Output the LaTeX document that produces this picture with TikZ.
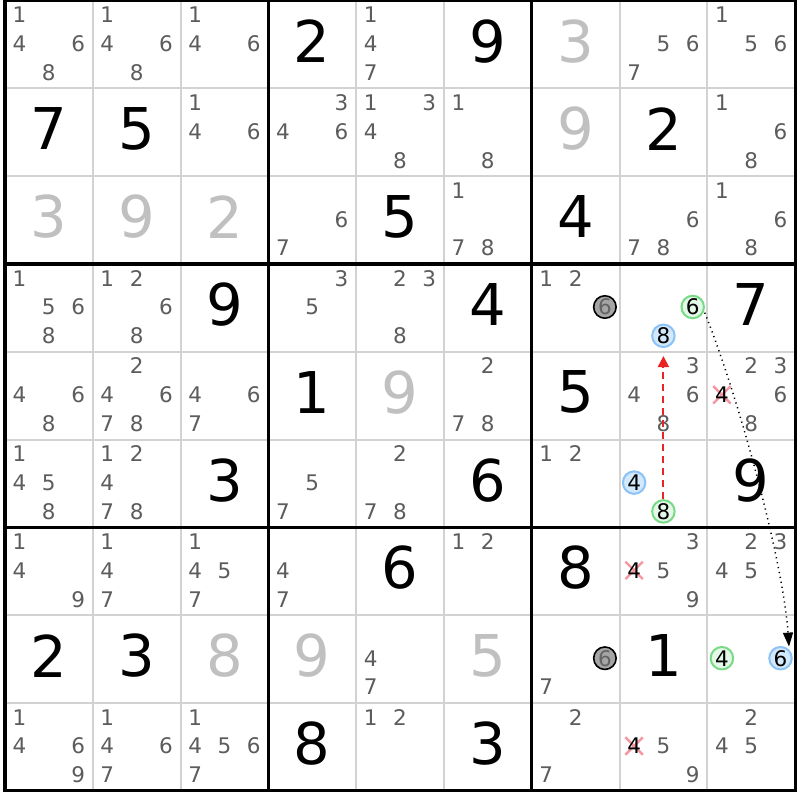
\documentclass[tikz,border=0pt]{standalone}
\usepackage{fontspec}
\setmainfont{DejaVu Sans}
\usetikzlibrary{arrows.meta,shapes.misc,calc}
\definecolor{candgray}{RGB}{92,92,92}
\definecolor{givengray}{RGB}{192,192,192}
\definecolor{thingray}{RGB}{210,210,210}
\definecolor{grstroke}{RGB}{120,218,134}
\definecolor{grfill}{RGB}{228,248,231}
\definecolor{blstroke}{RGB}{140,194,245}
\definecolor{blfill}{RGB}{210,232,252}
\definecolor{gyfill}{RGB}{165,165,165}
\definecolor{gytext}{RGB}{100,100,100}
\definecolor{crosspink}{RGB}{245,150,160}
\definecolor{arrowred}{RGB}{235,35,35}
\newcommand\setcandpos[3]{%
  \pgfmathsetmacro\cpx{5+(#2-1)*87.8+14.5+29.3*mod(#3-1,3)}%
  \pgfmathsetmacro\cpy{0.5+(#1-1)*87.8+14.3+28.8*floor((#3-1)/3)}}
\tikzset{
  candfont/.style={font=\fontsize{21.5}{22}\selectfont},
  cand/.style={candfont, inner sep=0pt, text=candgray},
  bigdigit/.style={inner sep=0pt, font=\fontsize{57.6}{58}\selectfont},
  hlbase/.style={candfont, circle, minimum size=22.5pt, inner sep=0pt, line width=2pt},
  hlgreen/.style={hlbase, draw=grstroke, fill=grfill, text=black},
  hlblue/.style={hlbase, draw=blstroke, fill=blfill, text=black},
  hlgray/.style={hlbase, draw=black, fill=gyfill, text=gytext, line width=1.6pt},
  elim/.style={cross out, draw=crosspink, line width=2.4pt, minimum size=15pt, inner sep=0pt},
  elimdigit/.style={candfont, inner sep=0pt, text=black},
  thinline/.style={draw=thingray, line width=2pt},
  thickline/.style={draw=black, line width=3.2pt},
  linkred/.style={draw=arrowred, color=arrowred, line width=1.9pt, dash pattern=on 7pt off 5pt, -{Triangle[width=11pt,length=11pt]}},
  linkdot/.style={draw=black, line width=1.5pt, dash pattern=on 1.2pt off 3.8pt, -{Triangle[width=10pt,length=14pt]}},
}
\begin{document}
\begin{tikzpicture}[x=1pt,y=-1pt]
\useasboundingbox[fill=white] (0,0) rectangle (800,800);
% thin grid lines
\foreach \k in {1,2,4,5,7,8}{
  \draw[thinline] ({5+\k*87.8},0.5) -- ({5+\k*87.8},790.7);
  \draw[thinline] (5,{0.5+\k*87.8}) -- (795.2,{0.5+\k*87.8});
}
% thick grid lines
\foreach \k in {3,6}{
  \draw[thickline] ({5+\k*87.8},0.5) -- ({5+\k*87.8},790.7);
  \draw[thickline] (5,{0.5+\k*87.8}) -- (795.2,{0.5+\k*87.8});
}
\draw[thickline] (5,0.5) rectangle (795.2,790.7);
% solved digits (black)
\foreach \r/\c/\v in {1/4/2,1/6/9,2/1/7,2/2/5,2/8/2,3/5/5,3/7/4,4/3/9,4/6/4,4/9/7,
  5/4/1,5/7/5,6/3/3,6/6/6,6/9/9,7/5/6,7/7/8,8/1/2,8/2/3,8/8/1,9/4/8,9/6/3}{
  \node[bigdigit, text=black] (val-\r-\c) at ({5+(\c-1)*87.8+43.9},{0.5+(\r-1)*87.8+40.6}) {\v};
}
% given digits (light gray)
\foreach \r/\c/\v in {1/7/3,2/7/9,3/1/3,3/2/9,3/3/2,5/5/9,8/3/8,8/4/9,8/6/5}{
  \node[bigdigit, text=givengray] (val-\r-\c) at ({5+(\c-1)*87.8+43.9},{0.5+(\r-1)*87.8+40.6}) {\v};
}
% plain candidates
\foreach \r/\c/\ds in {1/1/{1,4,6,8},1/2/{1,4,6,8},1/3/{1,4,6},1/5/{1,4,7},1/8/{5,6,7},1/9/{1,5,6},
  2/3/{1,4,6},2/4/{3,4,6},2/5/{1,3,4,8},2/6/{1,8},2/9/{1,6,8},
  3/4/{6,7},3/6/{1,7,8},3/8/{6,7,8},3/9/{1,6,8},
  4/1/{1,5,6,8},4/2/{1,2,6,8},4/4/{3,5},4/5/{2,3,8},4/7/{1,2},
  5/1/{4,6,8},5/2/{2,4,6,7,8},5/3/{4,6,7},5/6/{2,7,8},5/8/{3,4,6,8},5/9/{2,3,6,8},
  6/1/{1,4,5,8},6/2/{1,2,4,7,8},6/4/{5,7},6/5/{2,7,8},6/7/{1,2},
  7/1/{1,4,9},7/2/{1,4,7},7/3/{1,4,5,7},7/4/{4,7},7/6/{1,2},7/8/{3,5,9},7/9/{2,3,4,5},
  8/5/{4,7},8/7/{7},
  9/1/{1,4,6,9},9/2/{1,4,6,7},9/3/{1,4,5,6,7},9/5/{1,2},9/7/{2,7},9/8/{5,9},9/9/{2,4,5}}{
  \foreach \d in \ds {
    \setcandpos{\r}{\c}{\d}
    \node[cand] (cand-\r-\c-\d) at (\cpx,\cpy) {\d};
  }
}
% eliminated candidates
\foreach \r/\c/\d in {5/9/4,7/8/4,9/8/4}{
  \setcandpos{\r}{\c}{\d}
  \node[elim] (x-\r-\c-\d) at (\cpx,\cpy) {};
  \node[elimdigit] (cand-\r-\c-\d) at (\cpx,\cpy) {\d};
}
% highlighted candidates
\setcandpos{4}{7}{6}\node[hlgray] (gy1) at (\cpx,\cpy) {6};
\setcandpos{8}{7}{6}\node[hlgray] (gy2) at (\cpx,\cpy) {6};
\setcandpos{4}{8}{6}\node[hlgreen] (g6) at (\cpx,\cpy) {6};
\setcandpos{4}{8}{8}\node[hlblue] (b8) at (\cpx,\cpy) {8};
\setcandpos{6}{8}{4}\node[hlblue] (b4) at (\cpx,\cpy) {4};
\setcandpos{6}{8}{8}\node[hlgreen] (g8) at (\cpx,\cpy) {8};
\setcandpos{8}{9}{4}\node[hlgreen] (g4) at (\cpx,\cpy) {4};
\setcandpos{8}{9}{6}\node[hlblue] (b6) at (\cpx,\cpy) {6};
% links
\draw[linkred, shorten >=8pt] (g8.north) -- (b8.south);
\draw[linkdot] ($(g6.center)+(12,5.7)$) .. controls +(33,81.6) and +(-6.2,-87.8) .. ($(b6.center)+(8.5,-11.6)$);
\end{tikzpicture}
\end{document}
